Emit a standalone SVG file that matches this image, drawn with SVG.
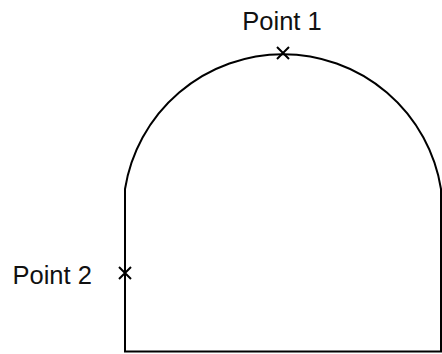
<svg xmlns="http://www.w3.org/2000/svg" width="442" height="354" viewBox="0 0 442 354">
<style>
.line{fill:none;stroke:#000;stroke-width:2}
.mark{fill:none;stroke:#000;stroke-width:2}
.lbl{font-family:"Liberation Sans",Arial,sans-serif;font-size:25.5px;fill:#111}
</style>
<rect width="442" height="354" fill="#fff"/>
<g id="connectors">
<path class="line" d="M125,189 A160,160 0 0 1 441,189 L441,351.5 L125,351.5 Z"/>
</g>
<g id="point1">
<path class="mark" d="M277,47 L289,59 M289,47 L277,59"/>
<text class="lbl" x="282" y="30" text-anchor="middle">Point 1</text>
</g>
<g id="point2">
<path class="mark" d="M119,267 L131,279 M131,267 L119,279"/>
<text class="lbl" x="12.5" y="284">Point 2</text>
</g>
</svg>
